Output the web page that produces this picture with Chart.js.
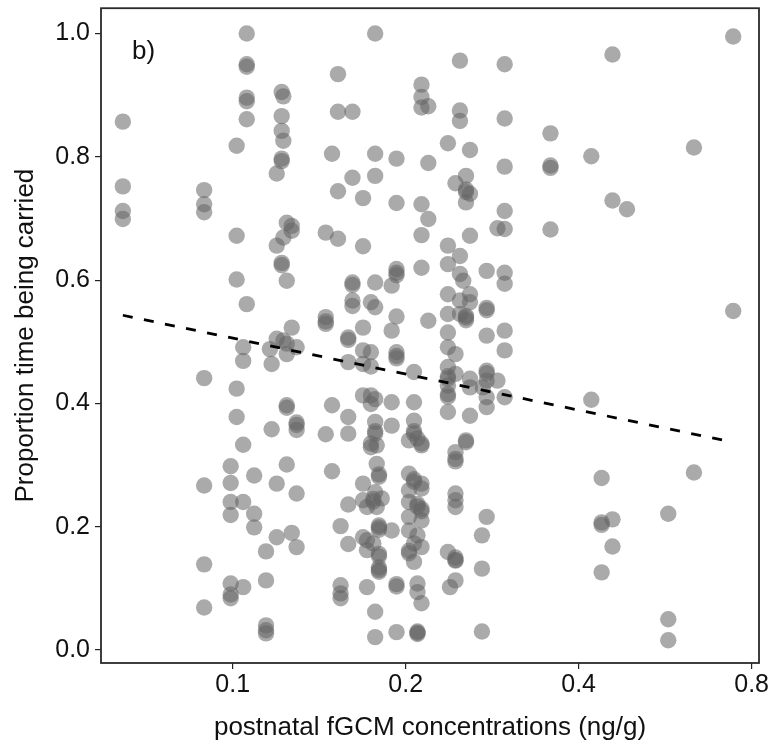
<!DOCTYPE html>
<html>
<head>
<meta charset="utf-8">
<script src="https://cdn.jsdelivr.net/npm/chart.js@4"></script>
<style>
  html, body { margin: 0; padding: 0; background: #ffffff; }
  #wrap { width: 771px; height: 744px; }
</style>
</head>
<body>
<div id="wrap"><canvas id="chart" width="771" height="744"></canvas></div>
<script>
// postnatal fGCM level of each infant (ng/g)
const fgcm = [
  0.0644, 0.0892, 0.0992, 0.1016, 0.1043, 0.1058, 0.1090, 0.1143, 0.1161, 0.1169,
  0.1193, 0.1217, 0.1225, 0.1242, 0.1267, 0.1292, 0.1452, 0.1489, 0.1525, 0.1541,
  0.1589, 0.1616, 0.1686, 0.1713, 0.1740, 0.1757, 0.1770, 0.1781, 0.1797, 0.1817,
  0.1891, 0.1928, 0.2027, 0.2068, 0.2097, 0.2131, 0.2190, 0.2369, 0.2389, 0.2442,
  0.2486, 0.2519, 0.2547, 0.2588, 0.2715, 0.2725, 0.2767, 0.2889, 0.2974, 0.3573,
  0.4208, 0.4386, 0.4581, 0.4855, 0.5728, 0.6349, 0.7431
];

// proportion of observations spent being carried, per infant (one entry per session)
const carried = [
  [0.857, 0.752, 0.712, 0.699],
  [0.746, 0.723, 0.710, 0.441, 0.267, 0.139, 0.069],
  [0.298, 0.271, 0.240, 0.219, 0.108, 0.090, 0.084],
  [0.818, 0.672, 0.601, 0.424, 0.378],
  [0.491, 0.469, 0.333, 0.240, 0.102],
  [1.000, 0.950, 0.946, 0.896, 0.890, 0.861, 0.561],
  [0.283, 0.221, 0.199],
  [0.160, 0.113, 0.040, 0.032, 0.027],
  [0.488],
  [0.464, 0.358],
  [0.773, 0.656, 0.505, 0.270, 0.183],
  [0.905, 0.866, 0.842, 0.797, 0.793, 0.628, 0.624],
  [0.898, 0.826, 0.669, 0.502],
  [0.693, 0.599, 0.497, 0.480, 0.397, 0.393, 0.301],
  [0.688, 0.680, 0.523, 0.190],
  [0.491, 0.369, 0.365, 0.357, 0.254, 0.167],
  [0.677, 0.540, 0.533, 0.529, 0.350],
  [0.805, 0.397, 0.290],
  [0.934, 0.873, 0.744, 0.667],
  [0.201, 0.105, 0.092, 0.084],
  [0.507, 0.503, 0.467, 0.378, 0.351, 0.236, 0.172],
  [0.873, 0.766, 0.596, 0.592, 0.567, 0.558],
  [0.733, 0.655, 0.523, 0.486, 0.464, 0.413, 0.270, 0.243, 0.183],
  [0.232, 0.178, 0.162, 0.102],
  [0.564, 0.483, 0.460, 0.413, 0.399, 0.335, 0.329],
  [0.245, 0.241, 0.173],
  [1.000, 0.805, 0.769, 0.596, 0.556, 0.407, 0.370, 0.355, 0.351, 0.256, 0.062, 0.021],
  [0.332, 0.302, 0.232],
  [0.285, 0.281, 0.202, 0.199, 0.195, 0.156, 0.152, 0.134, 0.130, 0.127],
  [0.246],
  [0.591, 0.518, 0.402, 0.364, 0.194],
  [0.797, 0.725, 0.618, 0.612, 0.608, 0.541, 0.483, 0.477, 0.473, 0.107, 0.103, 0.029],
  [0.340, 0.286, 0.259, 0.240, 0.216, 0.194, 0.161, 0.157],
  [0.451, 0.402, 0.372, 0.355, 0.351, 0.277, 0.273, 0.173, 0.143],
  [0.343, 0.237, 0.233, 0.186, 0.108, 0.094, 0.030, 0.028, 0.026],
  [0.917, 0.897, 0.880, 0.723, 0.673, 0.620, 0.335, 0.332, 0.270, 0.262, 0.229, 0.225, 0.210, 0.167, 0.076],
  [0.882, 0.790, 0.699, 0.534],
  [0.822, 0.656, 0.626, 0.577, 0.545, 0.515, 0.491, 0.459, 0.444, 0.440, 0.429, 0.415, 0.411, 0.386, 0.159],
  [0.102],
  [0.757, 0.480, 0.448, 0.321, 0.310, 0.306, 0.254, 0.243, 0.232, 0.150, 0.146, 0.145, 0.113],
  [0.956, 0.875, 0.858, 0.639, 0.610, 0.567, 0.545],
  [0.599],
  [0.769, 0.747, 0.743, 0.726, 0.542, 0.539, 0.535, 0.340, 0.337],
  [0.811, 0.740, 0.672, 0.577, 0.564, 0.440, 0.426, 0.380],
  [0.186, 0.132, 0.030],
  [0.426],
  [0.615, 0.555, 0.551, 0.510, 0.453, 0.449, 0.437, 0.410, 0.394, 0.216],
  [0.684, 0.437],
  [0.950, 0.862, 0.784, 0.712, 0.683, 0.612, 0.594, 0.518, 0.486, 0.410],
  [0.838, 0.786, 0.782, 0.682],
  [0.801, 0.406],
  [0.279, 0.207, 0.203, 0.126],
  [0.966, 0.729, 0.212, 0.168],
  [0.715],
  [0.221, 0.050, 0.016],
  [0.815, 0.288],
  [0.995, 0.550]
];

// fitted trend (linear in log fGCM), evaluated at the range ends
const fitX = [0.0644, 0.7431];
const fitY = [0.543, 0.337];

const xTicks = [0.1, 0.2, 0.4, 0.8];
const yTicks = [0.0, 0.2, 0.4, 0.6, 0.8, 1.0];

const FONT = "'Liberation Sans', Arial, Helvetica, sans-serif";

const points = [];
fgcm.forEach((x, i) => carried[i].forEach(y => points.push({ x: x, y: y })));
const fitLine = fitX.map((x, i) => ({ x: x, y: fitY[i] }));

// panel frame and panel tag
const framePlugin = {
  id: 'frame',
  afterDatasetsDraw(chart) {
    const { ctx, chartArea: a } = chart;
    ctx.save();
    ctx.strokeStyle = '#2a2a2a';
    ctx.lineWidth = 1.8;
    ctx.strokeRect(a.left, a.top, a.right - a.left, a.bottom - a.top);
    ctx.fillStyle = '#111111';
    ctx.font = '26px ' + FONT;
    ctx.textAlign = 'left';
    ctx.textBaseline = 'alphabetic';
    ctx.fillText('b)', a.left + 31, a.top + 51);
    ctx.restore();
  }
};

// keep the plot panel fixed regardless of label overhang
const noOverhang = s => {
  s.paddingTop = 0; s.paddingBottom = 0; s.paddingLeft = 0; s.paddingRight = 0;
};

new Chart(document.getElementById('chart'), {
  type: 'scatter',
  data: {
    datasets: [
      {
        type: 'line',
        data: fitLine,
        borderColor: '#000000',
        borderWidth: 2.8,
        borderDash: [10, 11.5],
        pointRadius: 0,
        fill: false,
        order: 0
      },
      {
        data: points,
        backgroundColor: 'rgba(100,100,100,0.55)',
        borderWidth: 0,
        pointRadius: 8.2,
        pointHoverRadius: 8.2,
        order: 1
      }
    ]
  },
  plugins: [framePlugin],
  options: {
    responsive: false,
    animation: false,
    layout: { padding: { left: 0, right: 12, top: 7, bottom: 0 } },
    plugins: {
      legend: { display: false },
      tooltip: { enabled: false }
    },
    scales: {
      x: {
        type: 'logarithmic',
        min: 0.059,
        max: 0.824,
        afterBuildTicks: s => { s.ticks = xTicks.map(v => ({ value: v })); },
        afterFit: s => { s.height = 81; noOverhang(s); },
        border: { display: false },
        grid: { drawOnChartArea: false, drawTicks: true, tickLength: 6, color: '#222222', lineWidth: 1.2 },
        ticks: {
          color: '#111111',
          padding: 1,
          maxRotation: 0,
          autoSkip: false,
          font: { family: FONT, size: 25 },
          callback: v => String(v)
        },
        title: {
          display: true,
          text: 'postnatal fGCM concentrations (ng/g)',
          color: '#111111',
          font: { family: FONT, size: 26 },
          padding: { top: 0, bottom: 1 }
        }
      },
      y: {
        type: 'linear',
        min: -0.021,
        max: 1.041,
        afterBuildTicks: s => { s.ticks = yTicks.map(v => ({ value: v })); },
        afterFit: s => { s.width = 101; noOverhang(s); },
        border: { display: false },
        grid: { drawOnChartArea: false, drawTicks: true, tickLength: 6, color: '#222222', lineWidth: 1.2 },
        ticks: {
          color: '#111111',
          padding: 5,
          autoSkip: false,
          font: { family: FONT, size: 25 },
          callback: v => Number(v).toFixed(1)
        },
        title: {
          display: true,
          text: 'Proportion time being carried',
          color: '#111111',
          font: { family: FONT, size: 26 },
          padding: { top: 10, bottom: 0 }
        }
      }
    }
  }
});
</script>
</body>
</html>
